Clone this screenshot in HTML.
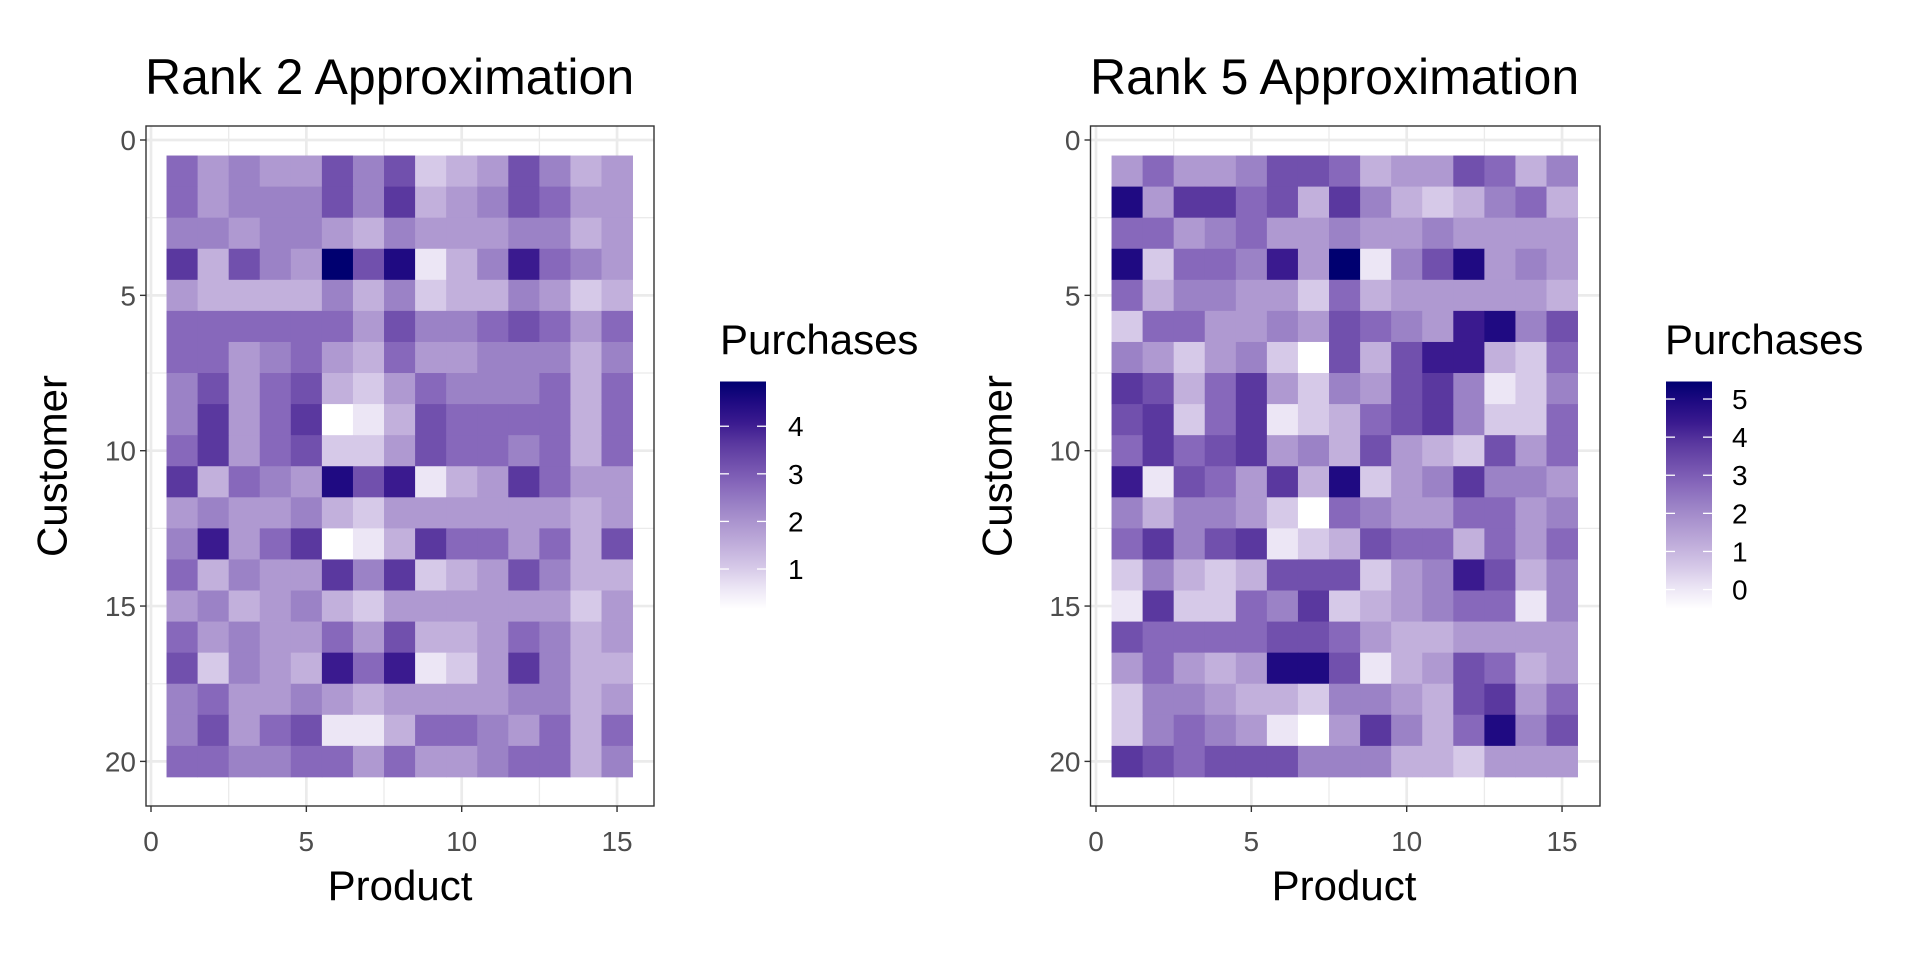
<!DOCTYPE html>
<html><head><meta charset="utf-8"><style>
html,body{margin:0;padding:0;background:#fff;}
svg{display:block;font-family:"Liberation Sans",Arial,sans-serif;}
</style></head><body>
<svg id="s" width="1920" height="960" xmlns="http://www.w3.org/2000/svg"></svg>
<script>
const pal=["#ffffff","#ece6f5","#d6c9e8","#c2b0dc","#af99d1","#9b82c6","#8768bb","#7150ad","#5a389f","#3a1a8f","#1f0a82","#000070"];
const L=["64544757234753 4".replace(/ /g,""),""];
const left=[
"645447572347534","645557583457644","554554354445534","83754B7A1359654","433335352335423",
"666666475567646","664564364455535","574673246555636","584680137666636","684672247665636",
"83654A791348644","454453244444434","594680138664637","635448582347533","453453244444424",
"645446473346534","725439691248533","564454344445534","574671136654636","665566464456635"];
const right=[
"464457763447635","A48867385323563","664564454454444","A266594B157A454","635544263444443",
"266445476549A57","542452073799326","873684254785125","782681236785226","686784537432746",
"9176483A2458554","535542065446645","685781237663646","253237772459735","182265823456615",
"766667764334444","46434AA71347634","255433255437846","256541048536A57","876777555332444"];
function h(s){return parseInt(s,16);}
let o="";
const W=31.07;
function panel(data,bx0,bx1,x0,title,tx,ltx,lbx,vtop,vbot,labels,lblx,custx,prodx){
  const y0=140,top=126,bot=806;
  // grid
  for(let k=0;k<=3;k++){const gx=x0+k*5*W;o+=`<line x1="${gx}" y1="${top}" x2="${gx}" y2="${bot}" stroke="#ebebeb" stroke-width="2.7"/>`;}
  for(let k=0;k<3;k++){const gx=x0+(2.5+k*5)*W;o+=`<line x1="${gx}" y1="${top}" x2="${gx}" y2="${bot}" stroke="#ebebeb" stroke-width="1.3"/>`;}
  for(let k=0;k<=4;k++){const gy=y0+k*5*W;o+=`<line x1="${bx0}" y1="${gy}" x2="${bx1}" y2="${gy}" stroke="#ebebeb" stroke-width="2.7"/>`;}
  for(let k=0;k<4;k++){const gy=y0+(2.5+k*5)*W;o+=`<line x1="${bx0}" y1="${gy}" x2="${bx1}" y2="${gy}" stroke="#ebebeb" stroke-width="1.3"/>`;}
  for(let r=0;r<20;r++)for(let c=0;c<15;c++){
    const x=x0+(c+0.5)*W,y=y0+(r+0.5)*W;
    o+=`<rect x="${x.toFixed(2)}" y="${y.toFixed(2)}" width="${(W+0.4).toFixed(2)}" height="${(W+0.4).toFixed(2)}" fill="${pal[h(data[r][c])]}"/>`;
  }
  o+=`<rect x="${bx0}" y="${top}" width="${bx1-bx0}" height="${bot-top}" fill="none" stroke="#333" stroke-width="1.4"/>`;
  for(let k=0;k<=3;k++){const gx=x0+k*5*W;o+=`<line x1="${gx}" y1="${bot}" x2="${gx}" y2="${bot+6}" stroke="#333" stroke-width="1.4"/><text x="${gx}" y="851" font-size="28" fill="#4d4d4d" text-anchor="middle">${k*5}</text>`;}
  for(let k=0;k<=4;k++){const gy=y0+k*5*W;o+=`<line x1="${bx0-6}" y1="${gy}" x2="${bx0}" y2="${gy}" stroke="#333" stroke-width="1.4"/><text x="${bx0-10}" y="${gy+10}" font-size="28" fill="#4d4d4d" text-anchor="end">${k*5}</text>`;}
  o+=`<text x="${tx}" y="94" font-size="50" fill="#000">${title}</text>`;
  o+=`<text x="${prodx}" y="900" font-size="42" fill="#000" text-anchor="middle">Product</text>`;
  o+=`<text transform="translate(${custx},466) rotate(-90)" font-size="42" fill="#000" text-anchor="middle" dominant-baseline="central">Customer</text>`;
  // legend
  const id="g"+Math.round(lbx);
  o+=`<defs><linearGradient id="${id}" x1="0" y1="1" x2="0" y2="0">`;
  pal.forEach((c,i)=>{o+=`<stop offset="${i/11}" stop-color="${c}"/>`;});
  o+=`</linearGradient></defs>`;
  o+=`<text x="${ltx}" y="354" font-size="42" fill="#000">Purchases</text>`;
  const lt=381.5,lb=609;
  o+=`<rect x="${lbx}" y="${lt}" width="46" height="${lb-lt}" fill="url(#${id})"/>`;
  labels.forEach(v=>{const y=lt+(vtop-v)/(vtop-vbot)*(lb-lt);
    o+=`<line x1="${lbx}" y1="${y}" x2="${lbx+9}" y2="${y}" stroke="#fff" stroke-width="1.3"/><line x1="${lbx+37}" y1="${y}" x2="${lbx+46}" y2="${y}" stroke="#fff" stroke-width="1.3"/>`;
    o+=`<text x="${lblx}" y="${y+10}" font-size="28" fill="#000">${v}</text>`;});
}
panel(left,146,654,151,"Rank 2 Approximation",145,720,720,4.94,0.16,[1,2,3,4],788,52,400);
panel(right,1090.5,1600,1096,"Rank 5 Approximation",1090,1665,1666,5.46,-0.51,[0,1,2,3,4,5],1732,997,1344);
document.getElementById("s").innerHTML=o;
</script>
</body></html>
